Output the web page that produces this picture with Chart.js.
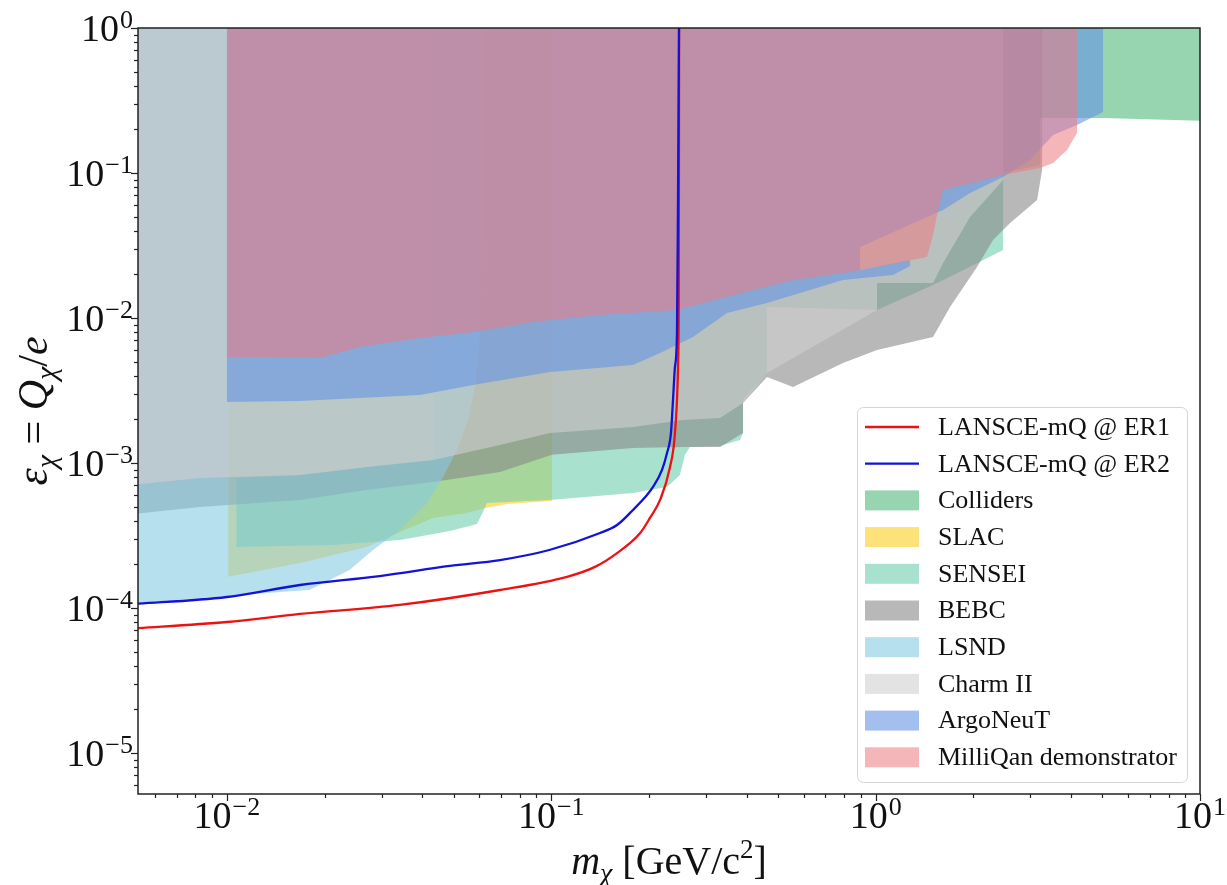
<!DOCTYPE html>
<html>
<head>
<meta charset="utf-8">
<script src="https://cdn.jsdelivr.net/npm/chart.js@4.4.0/dist/chart.umd.min.js"></script>
<style>
  html, body { margin: 0; padding: 0; background: #fff; }
  #wrap { width: 1227px; height: 885px; }
</style>
</head>
<body>
<div id="wrap"><canvas id="chart" width="1227" height="885"></canvas></div>
<script>
// LANSCE-mQ reach curves (mass in GeV/c^2, epsilon = Q/e)
const er1Mass = [0.005, 0.01, 0.0168, 0.0341, 0.0695, 0.1118, 0.1364, 0.1595, 0.188, 0.2015, 0.2165, 0.2323, 0.2406, 0.2459, 0.2471, 0.2478];
const er1Eps  = [7.2e-5, 8.0e-5, 9.09e-5, 1.05e-4, 1.33e-4, 1.64e-4, 1.92e-4, 2.39e-4, 3.29e-4, 4.18e-4, 5.56e-4, 9.38e-4, 1.61e-3, 4.59e-3, 0.0133, 1];
const er2Mass = [0.005, 0.01, 0.0168, 0.0296, 0.0487, 0.0695, 0.0986, 0.1414, 0.1595, 0.1786, 0.1973, 0.2059, 0.2195, 0.2274, 0.2339, 0.2373, 0.2406, 0.2441, 0.2459, 0.2476];
const er2Eps  = [1.06e-4, 1.19e-4, 1.44e-4, 1.66e-4, 1.95e-4, 2.14e-4, 2.51e-4, 3.29e-4, 3.73e-4, 4.74e-4, 6.01e-4, 6.83e-4, 8.95e-4, 1.17e-3, 1.61e-3, 2.72e-3, 4.59e-3, 7.88e-3, 0.0651, 1];

// excluded regions, as closed outlines
const collidersMass = [3.214, 10.7, 10.7, 5.025, 3.214];
const collidersEps  = [1.2, 1.2, 0.2284, 0.2394, 0.2394];

const slacMass = [0.0101, 0.0101, 0.0168, 0.027, 0.0342, 0.0432, 0.055, 0.0625, 0.073, 0.1005, 0.1005];
const slacEps  = [1.2, 1.64e-4, 2.04e-4, 2.63e-4, 3.34e-4, 4.18e-4, 4.52e-4, 4.89e-4, 5.21e-4, 5.47e-4, 1.2];

const senseiMass = [0.0107, 0.0212, 0.0342, 0.0487, 0.059, 0.0616, 0.0633, 0.073, 0.0991, 0.1786, 0.2274, 0.2493, 0.2584, 0.2677, 0.3312, 0.3818, 0.3901, 0.3901, 0.4624, 0.4624, 1.01, 1.503, 1.821, 2.471, 2.471, 3.214, 3.214, 0.0432, 0.0432, 0.027, 0.0168, 0.0107];
const senseiEps  = [2.63e-4, 2.72e-4, 2.94e-4, 3.4e-4, 3.8e-4, 4.59e-4, 5.3e-4, 5.38e-4, 5.56e-4, 6.21e-4, 6.83e-4, 8.26e-4, 1.14e-3, 1.29e-3, 1.31e-3, 1.44e-3, 1.61e-3, 2.72e-3, 4.18e-3, 0.0119, 0.01136, 0.0169, 0.0208, 0.0294, 0.1, 0.1136, 1.2, 1.2, 1.05e-3, 9.38e-4, 8.26e-4, 7.88e-4];

const bebcMass = [0.004, 0.004, 0.00826, 0.0168, 0.027, 0.0432, 0.0695, 0.1005, 0.1786, 0.2547, 0.3312, 0.3901, 0.3901, 0.4624, 0.5563, 0.7932, 1.01, 1.503, 1.696, 2.054, 2.301, 2.597, 3.146, 3.26, 3.26];
const bebcEps  = [1.2, 4.2e-4, 4.97e-4, 5.56e-4, 6.51e-4, 7.4e-4, 8.67e-4, 1.14e-3, 1.27e-3, 1.29e-3, 1.29e-3, 1.61e-3, 2.59e-3, 3.92e-3, 3.34e-3, 4.89e-3, 6.01e-3, 7.4e-3, 0.0119, 0.0225, 0.0345, 0.0452, 0.0651, 0.105, 1.2];

const lsndMass = [0.004, 0.004, 0.01, 0.0146, 0.018, 0.0239, 0.0282, 0.0342, 0.0414, 0.0464, 0.0512, 0.055, 0.0582, 0.0603, 0.0625];
const lsndEps  = [1.2, 1.03e-4, 1.21e-4, 1.29e-4, 1.33e-4, 1.83e-4, 2.51e-4, 3.45e-4, 5.3e-4, 8.0e-4, 1.23e-3, 1.89e-3, 3.34e-3, 8.26e-3, 1.2];

const charmMass = [0.004, 0.004, 0.00826, 0.0168, 0.027, 0.0432, 0.0695, 0.0991, 0.1786, 0.2547, 0.3312, 0.3901, 0.4624, 1.01, 1.01, 1.503, 1.614, 1.955, 2.471, 2.471];
const charmEps  = [1.2, 6.7e-4, 7.88e-4, 8.26e-4, 9.38e-4, 1.05e-3, 1.33e-3, 1.61e-3, 1.77e-3, 1.98e-3, 2.04e-3, 2.59e-3, 4.18e-3, 0.01136, 0.0174, 0.0174, 0.0239, 0.0497, 0.0895, 1.2];

const argoMass = [0.01, 0.01, 0.0168, 0.0394, 0.0574, 0.0991, 0.1786, 0.2164, 0.2734, 0.3482, 0.4624, 0.6277, 0.7932, 1.131, 1.277, 1.277, 0.8952, 0.8952, 1.44, 1.614, 1.955, 2.471, 2.993, 3.524, 4.178, 5.025, 5.025];
const argoEps  = [1.2, 2.63e-3, 2.68e-3, 2.94e-3, 3.45e-3, 4.24e-3, 4.74e-3, 5.74e-3, 7.4e-3, 0.01083, 0.0127, 0.0156, 0.0183, 0.0198, 0.0228, 0.0251, 0.0214, 0.0309, 0.0497, 0.0556, 0.0728, 0.0939, 0.1229, 0.1829, 0.2143, 0.2634, 1.2];

const milliMass = [0.01, 0.01, 0.0194, 0.0257, 0.0394, 0.055, 0.0878, 0.1413, 0.2441, 0.3482, 0.5563, 0.7932, 0.8952, 1.44, 1.503, 1.546, 1.614, 2.471, 3.214, 3.524, 3.892, 4.178, 4.178];
const milliEps  = [1.2, 5.38e-3, 5.3e-3, 6.31e-3, 7.28e-3, 7.88e-3, 9.38e-3, 0.01049, 0.01136, 0.014, 0.0183, 0.0204, 0.0214, 0.0263, 0.0374, 0.0513, 0.0763, 0.0969, 0.1083, 0.1172, 0.1441, 0.1887, 1.2];

// axis ticks
const xMajor = [0.01, 0.1, 1, 10];
const xMajorExp = ['\u22122', '\u22121', '0', '1'];
const yMajor = [1e-5, 1e-4, 1e-3, 1e-2, 1e-1, 1];
const yMajorExp = ['\u22125', '\u22124', '\u22123', '\u22122', '\u22121', '0'];

const SERIF = '"Liberation Serif", "DejaVu Serif", serif';

function toPoints(xs, ys) {
  return xs.map((x, i) => ({ x: x, y: ys[i] }));
}

function region(label, xs, ys, color, order) {
  return {
    label: label,
    data: toPoints(xs, ys),
    showLine: true,
    fill: 'shape',
    backgroundColor: color,
    borderWidth: 0,
    pointRadius: 0,
    order: order
  };
}

function curve(label, xs, ys, color, order) {
  return {
    label: label,
    data: toPoints(xs, ys),
    showLine: true,
    fill: false,
    borderColor: color,
    borderWidth: 2.3,
    pointRadius: 0,
    cubicInterpolationMode: 'monotone',
    order: order
  };
}

const datasets = [
  curve('LANSCE-mQ @ ER1', er1Mass, er1Eps, '#ee1111', 1),
  curve('LANSCE-mQ @ ER2', er2Mass, er2Eps, '#1212d8', 0),
  region('Colliders', collidersMass, collidersEps, 'rgba(82,183,123,0.6)', 9),
  region('SLAC', slacMass, slacEps, 'rgba(252,207,33,0.6)', 8),
  region('SENSEI', senseiMass, senseiEps, 'rgba(110,207,175,0.6)', 7),
  region('BEBC', bebcMass, bebcEps, 'rgba(137,137,137,0.6)', 6),
  region('LSND', lsndMass, lsndEps, 'rgba(135,203,227,0.6)', 5),
  region('Charm II', charmMass, charmEps, 'rgba(208,208,208,0.6)', 4),
  region('ArgoNeuT', argoMass, argoEps, 'rgba(102,148,230,0.6)', 3),
  region('MilliQan demonstrator', milliMass, milliEps, 'rgba(237,122,130,0.55)', 2)
];

function richText(ctx, parts, x, y) {
  let w = 0;
  parts.forEach(p => { ctx.font = p[1]; w += ctx.measureText(p[0]).width; });
  let cx = x - w / 2;
  parts.forEach(p => {
    ctx.font = p[1];
    ctx.fillText(p[0], cx, y + p[2]);
    cx += ctx.measureText(p[0]).width;
  });
}

function powLabel(ctx, exp, x, baseY, mode) {
  ctx.font = '38px ' + SERIF;
  const wBase = ctx.measureText('10').width;
  ctx.font = '26px ' + SERIF;
  const wExp = ctx.measureText(exp).width;
  const total = wBase + wExp + 1;
  const x0 = mode === 'right' ? x - total : x - total / 2;
  ctx.font = '38px ' + SERIF;
  ctx.fillText('10', x0, baseY);
  ctx.font = '26px ' + SERIF;
  ctx.fillText(exp, x0 + wBase + 1, baseY - 13);
}

const mplAxes = {
  id: 'mplAxes',
  afterDraw(chart) {
    const ctx = chart.ctx;
    const { left, top, right, bottom } = chart.chartArea;
    const xs = chart.scales.x, ys = chart.scales.y;
    ctx.save();
    ctx.fillStyle = '#111';
    ctx.strokeStyle = '#222';
    ctx.textAlign = 'left';
    ctx.textBaseline = 'alphabetic';

    // ticks
    ctx.lineWidth = 1.2;
    for (let e = -3; e <= 1; e++) {
      for (let m = 1; m <= 9; m++) {
        const v = m * Math.pow(10, e);
        if (v < xs.min || v > xs.max * 1.0001) continue;
        const px = Math.round(xs.getPixelForValue(v)) + 0.5;
        const len = m === 1 ? 7 : 4;
        ctx.beginPath(); ctx.moveTo(px, bottom); ctx.lineTo(px, bottom + len); ctx.stroke();
      }
    }
    for (let e = -6; e <= 0; e++) {
      for (let m = 1; m <= 9; m++) {
        const v = m * Math.pow(10, e);
        if (v < ys.min || v > ys.max * 1.0001) continue;
        const py = Math.round(ys.getPixelForValue(v)) + 0.5;
        const len = m === 1 ? 7 : 4;
        ctx.beginPath(); ctx.moveTo(left, py); ctx.lineTo(left - len, py); ctx.stroke();
      }
    }

    // frame
    ctx.lineWidth = 1.5;
    ctx.strokeRect(left, top, right - left, bottom - top);

    // tick labels
    xMajor.forEach((v, i) => powLabel(ctx, xMajorExp[i], xs.getPixelForValue(v), bottom + 34, 'center'));
    yMajor.forEach((v, i) => powLabel(ctx, yMajorExp[i], left - 5, ys.getPixelForValue(v) + 13, 'right'));

    // axis titles
    const it = 'italic 40px ' + SERIF, itS = 'italic 28px ' + SERIF;
    const rm = '40px ' + SERIF, rmS = '27px ' + SERIF;
    richText(ctx, [['m', it, 0], ['\u03c7', itS, 8], [' [GeV/c', rm, 0], ['2', rmS, -16], [']', rm, 0]],
      (left + right) / 2, 874);
    const it2 = 'italic 42px ' + SERIF, itS2 = 'italic 30px ' + SERIF, rm2 = '42px ' + SERIF;
    ctx.save();
    ctx.translate(47, (top + bottom) / 2);
    ctx.rotate(-Math.PI / 2);
    richText(ctx, [['\u03b5', 'italic 44px ' + SERIF, 0], ['\u03c7', itS2, 9], [' = ', rm2, 0],
      ['Q', it2, 0], ['\u03c7', itS2, 9], ['/', rm2, 0], ['e', it2, 0]], 0, 0);
    ctx.restore();

    // legend
    const lx = 857, ly = 407, lw = 330, lh = 375;
    ctx.beginPath();
    ctx.roundRect(lx + 0.5, ly + 0.5, lw, lh, 6);
    ctx.fillStyle = 'rgba(255,255,255,0.8)';
    ctx.fill();
    ctx.strokeStyle = '#d4d4d4';
    ctx.lineWidth = 1;
    ctx.stroke();
    ctx.textBaseline = 'middle';
    chart.data.datasets.forEach((ds, i) => {
      const cy = 427 + i * 36.7;
      if (ds.fill) {
        ctx.fillStyle = ds.backgroundColor;
        ctx.fillRect(865, cy - 10, 54, 20);
      } else {
        ctx.strokeStyle = ds.borderColor;
        ctx.lineWidth = 2.3;
        ctx.beginPath(); ctx.moveTo(865, cy); ctx.lineTo(919, cy); ctx.stroke();
      }
      ctx.fillStyle = '#111';
      ctx.font = '26px ' + SERIF;
      ctx.fillText(ds.label, 938, cy + 1);
    });
    ctx.restore();
  }
};

new Chart(document.getElementById('chart'), {
  type: 'scatter',
  data: { datasets: datasets },
  options: {
    responsive: false,
    animation: false,
    events: [],
    layout: { padding: { left: 0, right: 27, top: 28, bottom: 0 } },
    plugins: { legend: { display: false }, tooltip: { enabled: false } },
    scales: {
      x: {
        type: 'logarithmic', min: 0.00532, max: 10, bounds: 'data',
        grid: { display: false }, border: { display: false },
        ticks: { display: false }, title: { display: false },
        afterFit(s) { s.height = 91; }
      },
      y: {
        type: 'logarithmic', min: 5.21e-6, max: 1, bounds: 'data',
        grid: { display: false }, border: { display: false },
        ticks: { display: false }, title: { display: false },
        afterFit(s) { s.width = 138; }
      }
    }
  },
  plugins: [mplAxes]
});
</script>
</body>
</html>
